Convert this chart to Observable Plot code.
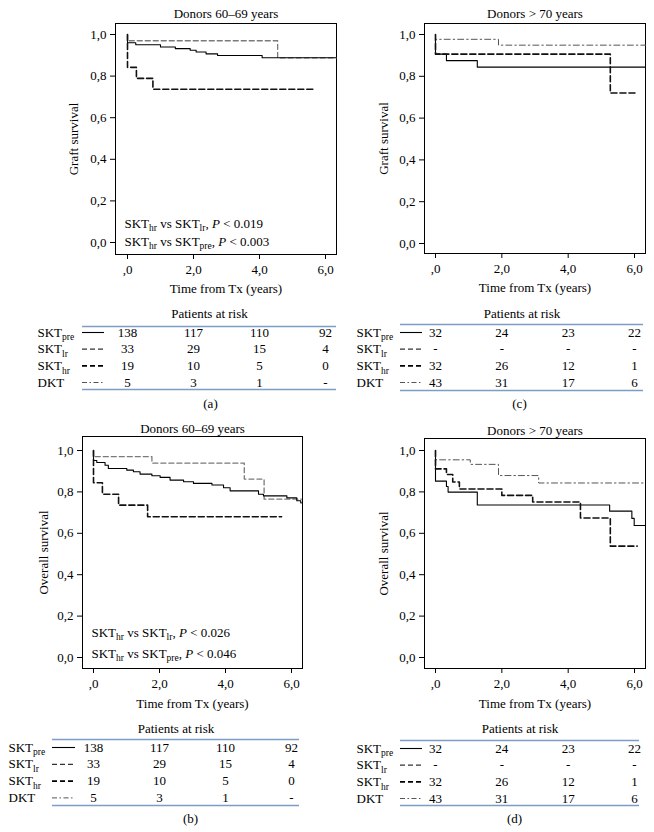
<!DOCTYPE html>
<html>
<head>
<meta charset="utf-8">
<script src="https://cdn.jsdelivr.net/npm/d3@7"></script>
<script src="https://cdn.jsdelivr.net/npm/@observablehq/plot@0.6"></script>
<style>
  html, body { margin: 0; padding: 0; background: #fff; }
  #fig { position: relative; width: 654px; height: 832px; overflow: hidden; }
  #fig svg { position: absolute; }
  #fig svg text { font-size: 13px; font-family: 'Liberation Serif', 'Times New Roman', Times, serif; fill: #000; }
</style>
</head>
<body>
<div id="fig"></div>
<script>
// ---------- data ----------
const xTicks = [0, 2, 4, 6];
const yTicks = [0, 0.2, 0.4, 0.6, 0.8, 1.0];
const riskTimes = [0, 2, 4, 6];
const rowLabels = ["SKT_{pre}", "SKT_{lr}", "SKT_{hr}", "DKT"];

// (a) Graft survival, donors 60–69 years
const aPreT = [0, 0, 0.25, 1.0, 1.45, 1.9, 2.08, 2.38, 2.73, 4.08, 6.33];
const aPreS = [1, 0.96, 0.951, 0.94, 0.932, 0.924, 0.916, 0.907, 0.899, 0.888, 0.888];
const aLrT = [0, 0, 4.55, 6.33];
const aLrS = [1, 0.97, 0.888, 0.888];
const aHrT = [0, 0, 0.27, 0.77, 5.7];
const aHrS = [1, 0.842, 0.789, 0.737, 0.737];

// (b) Overall survival, donors 60–69 years
const bPreT = [0, 0, 0.1, 0.35, 0.45, 1.01, 1.21, 1.41, 1.77, 2.02, 2.32, 2.73, 3.03, 3.59, 3.94, 4.14, 5.0, 5.15, 5.86, 6.16, 6.28, 6.3];
const bPreS = [1, 0.952, 0.942, 0.929, 0.913, 0.905, 0.897, 0.886, 0.878, 0.870, 0.857, 0.849, 0.841, 0.833, 0.820, 0.805, 0.789, 0.781, 0.771, 0.757, 0.747, 0.747];
const bLrT = [0, 0, 1.77, 4.57, 5.17, 6.3];
const bLrS = [1, 0.97, 0.939, 0.862, 0.765, 0.765];
const bHrT = [0, 0, 0.27, 0.76, 1.64, 5.7];
const bHrS = [1, 0.844, 0.789, 0.736, 0.68, 0.68];

// (c) Graft survival, donors > 70 years
const cPreT = [0, 0, 0.33, 1.26, 6.33];
const cPreS = [1, 0.906, 0.875, 0.844, 0.844];
const cHrT = [0, 0, 5.27, 6.07];
const cHrS = [1, 0.906, 0.72, 0.72];
const cDktT = [0, 0, 1.9, 6.33];
const cDktS = [1, 0.977, 0.949, 0.949];

// (d) Overall survival, donors > 70 years
const dPreT = [0, 0, 0.33, 0.38, 1.26, 5.25, 5.92, 5.99, 6.33];
const dPreS = [1, 0.852, 0.826, 0.799, 0.737, 0.707, 0.672, 0.638, 0.638];
const dHrT = [0, 0, 0.33, 0.52, 0.72, 2.0, 2.93, 4.37, 5.27, 6.08];
const dHrS = [1, 0.911, 0.884, 0.848, 0.814, 0.783, 0.751, 0.674, 0.538, 0.538];
const dDktT = [0, 0, 1.05, 1.9, 3.11, 6.33];
const dDktS = [1, 0.955, 0.933, 0.879, 0.843, 0.843];

// patients at risk
const riskA = [[138, 117, 110, 92], [33, 29, 15, 4], [19, 10, 5, 0], [5, 3, 1, "-"]];
const riskC = [[32, 24, 23, 22], ["-", "-", "-", "-"], [32, 26, 12, 1], [43, 31, 17, 6]];

// ---------- styles ----------
const FONT = "'Liberation Serif', 'Times New Roman', Times, serif";
const STY = {
  pre: {stroke: "#000", w: 1.1, dash: null},
  lr:  {stroke: "#7a7a7a", w: 1.3, dash: "5,3"},
  hr:  {stroke: "#111", w: 1.6, dash: "6,3"},
  dkt: {stroke: "#555", w: 1.0, dash: "6,3,1.5,3"}
};
const tblSty = [
  {stroke: "#000", w: 1.1, dash: null},
  {stroke: "#333", w: 1.3, dash: "5,3"},
  {stroke: "#000", w: 1.8, dash: "5,3"},
  {stroke: "#555", w: 1.0, dash: "5,2.5,1.5,2.5"}
];
const BLUE = "#7d9dc5";

const fmtX = d => d === 0 ? ",0" : d.toFixed(1).replace(".", ",");
const fmtY = d => d.toFixed(1).replace(".", ",");
const pts = (t, s) => t.map((v, i) => ({t: v, s: s[i]}));

function rich(svg) {
  const NS = "http://www.w3.org/2000/svg";
  svg.querySelectorAll("text").forEach(el => {
    const s = el.textContent;
    if (!/_\{|\*/.test(s)) return;
    const parts = s.split(/(_\{[^}]*\}|\*[^*]*\*)/).filter(p => p);
    while (el.firstChild) el.removeChild(el.firstChild);
    let low = false;
    for (const p of parts) {
      const ts = document.createElementNS(NS, "tspan");
      if (p.startsWith("_{")) {
        ts.textContent = p.slice(2, -1);
        ts.style.fontSize = "9.5px";
        if (!low) ts.setAttribute("dy", "3.5");
        low = true;
      } else {
        if (p.startsWith("*")) { ts.textContent = p.slice(1, -1); ts.style.fontStyle = "italic"; }
        else ts.textContent = p;
        if (low) ts.setAttribute("dy", "-3.5");
        low = false;
      }
      el.appendChild(ts);
    }
  });
}

function kmChart(c) {
  const fl = c.frameL - c.left, fr = c.frameR - c.left;
  const xdom = [(c.frameL - c.x0) / c.ppy, (c.frameR - c.x0) / c.ppy];
  const ppu = c.y0 - c.y1;
  const ydom = [(c.y0 - c.frameB) / ppu, (c.y0 - c.frameT) / ppu];
  const svg = Plot.plot({
    width: c.w, height: c.h,
    marginLeft: fl, marginRight: c.w - fr,
    marginTop: c.frameT - c.top, marginBottom: c.h - (c.frameB - c.top),
    style: {fontFamily: FONT, fontSize: "13px", background: "transparent", overflow: "visible", color: "#000"},
    x: {domain: xdom, ticks: xTicks, tickFormat: fmtX, tickSize: 5, tickPadding: 5, label: null},
    y: {domain: ydom, ticks: yTicks, tickFormat: fmtY, tickSize: 5, tickPadding: 4, label: null},
    marks: [
      Plot.frame({stroke: "#000", strokeWidth: 1}),
      ...c.series.map(s => Plot.line(pts(s.t, s.s), {
        x: "t", y: "s", curve: "step-after",
        stroke: s.sty.stroke, strokeWidth: s.sty.w, strokeDasharray: s.sty.dash
      })),
      Plot.text([c.title], {text: d => d, frameAnchor: "top", lineAnchor: "middle", dy: c.titleY - c.frameT}),
      Plot.text([c.yLabel], {text: d => d, frameAnchor: "left", lineAnchor: "middle", textAnchor: "middle", dx: c.yLabelX - c.frameL, rotate: -90}),
      Plot.text(["Time from Tx (years)"], {text: d => d, frameAnchor: "bottom", lineAnchor: "middle", dy: c.xLabelY - c.frameB}),
      ...(c.notes || []).map(n => Plot.text([n.text], {
        text: d => d, frameAnchor: "bottom-left", lineAnchor: "middle", textAnchor: "start",
        dx: n.x - c.frameL, dy: n.y - c.frameB
      }))
    ]
  });
  rich(svg);
  svg.style.left = c.left + "px";
  svg.style.top = c.top + "px";
  return svg;
}

function riskTable(c) {
  const xdom = [(c.lineL - c.x0) / c.ppy, (c.lineR - c.x0) / c.ppy];
  const yTop = -(c.row0 - c.lineTop) / c.pitch;
  const yBot = 3 + (c.lineBot - (c.row0 + 3 * c.pitch)) / c.pitch;
  const cells = c.risk.flatMap((r, i) => r.map((v, j) => ({t: riskTimes[j], r: i, v: String(v)})));
  const sampleEnd = xdom[0] + c.sampleLen / c.ppy;
  const svg = Plot.plot({
    width: c.w, height: c.h,
    marginLeft: c.lineL - c.left, marginRight: c.w - (c.lineR - c.left),
    marginTop: c.lineTop - c.top, marginBottom: c.h - (c.lineBot - c.top),
    style: {fontFamily: FONT, fontSize: "13px", background: "transparent", overflow: "visible", color: "#000"},
    x: {domain: xdom, axis: null},
    y: {domain: [yBot, yTop], axis: null},
    marks: [
      Plot.ruleY([yTop, yBot], {stroke: BLUE, strokeWidth: 1.3}),
      Plot.text(["Patients at risk"], {text: d => d, frameAnchor: "top", lineAnchor: "middle", dy: c.headerY - c.lineTop}),
      Plot.text(cells, {x: "t", y: "r", text: "v", lineAnchor: "middle"}),
      Plot.text(rowLabels, {text: d => d, y: (d, i) => i, frameAnchor: "left", lineAnchor: "middle", textAnchor: "start", dx: c.labelX - c.lineL}),
      ...tblSty.map((s, i) => Plot.ruleY([i], {
        y: d => d, x1: () => xdom[0], x2: () => sampleEnd,
        stroke: s.stroke, strokeWidth: s.w, strokeDasharray: s.dash
      })),
      Plot.text([c.caption], {text: d => d, frameAnchor: "bottom", lineAnchor: "middle", dy: c.captionY - c.lineBot, dx: c.captionX - (c.lineL + c.lineR) / 2})
    ]
  });
  rich(svg);
  svg.style.left = c.left + "px";
  svg.style.top = c.top + "px";
  return svg;
}

const fig = document.getElementById("fig");

// (a)
fig.appendChild(kmChart({
  left: 0, top: 0, w: 345, h: 300,
  frameL: 115, frameR: 336, frameT: 23, frameB: 254,
  x0: 127, ppy: 33, y1: 34, y0: 242,
  title: "Donors 60–69 years", titleY: 13,
  yLabel: "Graft survival", yLabelX: 73, xLabelY: 288,
  series: [
    {t: aLrT, s: aLrS, sty: STY.lr},
    {t: aPreT, s: aPreS, sty: STY.pre},
    {t: aHrT, s: aHrS, sty: STY.hr}
  ],
  notes: [
    {text: "SKT_{hr} vs SKT_{lr}, *P* < 0.019", x: 124, y: 223},
    {text: "SKT_{hr} vs SKT_{pre}, *P* < 0.003", x: 124, y: 241}
  ]
}));
fig.appendChild(riskTable({
  left: 0, top: 300, w: 345, h: 112,
  lineL: 82, lineR: 336, lineTop: 326, lineBot: 389, row0: 332, pitch: 16.67,
  x0: 127, ppy: 33, labelX: 37, sampleLen: 22, headerY: 313,
  risk: riskA, caption: "(a)", captionY: 403, captionX: 210
}));

// (c)
fig.appendChild(kmChart({
  left: 345, top: 0, w: 309, h: 300,
  frameL: 424, frameR: 645, frameT: 23, frameB: 253,
  x0: 435, ppy: 33.17, y1: 34, y0: 243,
  title: "Donors > 70 years", titleY: 13,
  yLabel: "Graft survival", yLabelX: 383, xLabelY: 287,
  series: [
    {t: cDktT, s: cDktS, sty: STY.dkt},
    {t: cPreT, s: cPreS, sty: STY.pre},
    {t: cHrT, s: cHrS, sty: STY.hr}
  ]
}));
fig.appendChild(riskTable({
  left: 345, top: 300, w: 309, h: 112,
  lineL: 400, lineR: 643, lineTop: 324, lineBot: 390, row0: 332, pitch: 16.67,
  x0: 435, ppy: 33.17, labelX: 356, sampleLen: 22, headerY: 313,
  risk: riskC, caption: "(c)", captionY: 403, captionX: 519
}));

// (b)
fig.appendChild(kmChart({
  left: 0, top: 415, w: 345, h: 300,
  frameL: 82, frameR: 302, frameT: 436, frameB: 668,
  x0: 93, ppy: 33, y1: 450, y0: 657,
  title: "Donors 60–69 years", titleY: 428,
  yLabel: "Overall survival", yLabelX: 43, xLabelY: 703,
  series: [
    {t: bLrT, s: bLrS, sty: STY.lr},
    {t: bPreT, s: bPreS, sty: STY.pre},
    {t: bHrT, s: bHrS, sty: STY.hr}
  ],
  notes: [
    {text: "SKT_{hr} vs SKT_{lr}, *P* < 0.026", x: 91, y: 632},
    {text: "SKT_{hr} vs SKT_{pre}, *P* < 0.046", x: 91, y: 653}
  ]
}));
fig.appendChild(riskTable({
  left: 0, top: 715, w: 345, h: 117,
  lineL: 52, lineR: 299, lineTop: 739, lineBot: 805, row0: 747, pitch: 16.8,
  x0: 93, ppy: 33, labelX: 8, sampleLen: 23, headerY: 728,
  risk: riskA, caption: "(b)", captionY: 818, captionX: 190
}));

// (d)
fig.appendChild(kmChart({
  left: 345, top: 415, w: 309, h: 300,
  frameL: 424, frameR: 645, frameT: 438, frameB: 668,
  x0: 435, ppy: 33.17, y1: 450, y0: 657,
  title: "Donors > 70 years", titleY: 430,
  yLabel: "Overall survival", yLabelX: 383, xLabelY: 703,
  series: [
    {t: dDktT, s: dDktS, sty: STY.dkt},
    {t: dPreT, s: dPreS, sty: STY.pre},
    {t: dHrT, s: dHrS, sty: STY.hr}
  ]
}));
fig.appendChild(riskTable({
  left: 345, top: 715, w: 309, h: 117,
  lineL: 400, lineR: 639, lineTop: 740, lineBot: 805, row0: 748, pitch: 16.67,
  x0: 435, ppy: 33.17, labelX: 356, sampleLen: 22, headerY: 728,
  risk: riskC, caption: "(d)", captionY: 818, captionX: 514
}));
</script>
</body>
</html>
